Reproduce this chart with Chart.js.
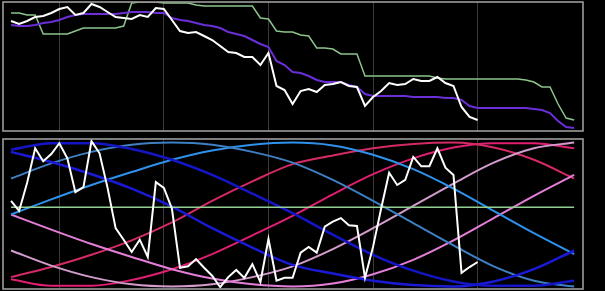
<!DOCTYPE html>
<html><head><meta charset="utf-8">
<script src="https://cdn.jsdelivr.net/npm/chart.js@4.4.1/dist/chart.umd.min.js"></script>
<style>
html,body{margin:0;padding:0;background:#000;width:605px;height:291px;overflow:hidden}
canvas{position:absolute;left:0}
#top{top:0}
#bot{top:135px}
</style></head><body>
<canvas id="top" width="605" height="135"></canvas>
<canvas id="bot" width="605" height="156"></canvas>
<script>
// vertical grid positions (index of weekly samples)
const gridTicks = [6, 19, 32, 45, 58];

// ---- top panel series ----
const topWhite = [109,106,109,113,114, 117,121,123,115,117, 126,123,118,113,112, 111,115,113,122,121,
  110,99,97,98,94, 90,84,78,77,73, 73,65,77,44,40, 26,39,41,38,45, 46,48,44,43,24,
  33,39,47,45,46, 51,49,49,53,47, 44,23,13,10];
const topPurple = [105,104,104,105,107, 108,110,113,115,116, 116,116,116,116,117, 118,118,118,117,117,
  112,110,109,107,105, 104,102,98,96,94, 90,86,83,69,65, 58,57,54,50,48, 48,48,45,43,36,
  34,34,34,34,34, 33,33,33,33,32, 32,30,24,22,22, 22,22,22,22,22, 21,20,17,9,3, 2];
const topGreen = [117,117,115,115,96, 96,96,96,99,102, 102,102,102,102,104, 127,128,128,128,127,
  127,127,127,125,124, 124,124,124,124,124, 124,112,111,99,98, 98,95,94,82,82, 81,76,76,76,54,
  54,54,54,54,54, 54,54,54,52,51, 51,51,51,51,51, 51,51,51,51,50, 48,43,43,26,12, 10];

// ---- bottom panel series ----
const bottomWhite = [0.19,0.05,0.44,0.92,0.74, 0.84,0.99,0.78,0.31,0.38, 1.02,0.85,0.37,-0.19,-0.35,
  -0.52,-0.35,-0.59,0.45,0.37, 0.08,-0.74,-0.72,-0.62,-0.74, -0.85,-1.01,-0.87,-0.77,-0.88,
  -0.69,-0.94,-0.34,-0.92,-0.88, -0.88,-0.53,-0.45,-0.53,-0.17, -0.10,-0.05,-0.15,-0.16,-0.88,
  -0.45,0.08,0.58,0.41,0.48, 0.80,0.67,0.67,0.92,0.65, 0.55,-0.81,-0.73,-0.66];
const thresholdX = [0, 70];
const thresholdY = [0.1, 0.1];
const curveX = [0,5,10,15,20,25,30,35,40,45,50,55,60,65,70];
const waveA = [0.90,0.99,0.99,0.91,0.76,0.55,0.29,0.02,-0.28,-0.56,-0.78,-0.93,-0.99,-0.99,-0.92];
const waveB = [0.87,0.73,0.56,0.36,0.11,-0.19,-0.46,-0.70,-0.82,-0.92,-0.98,-1.0,-0.93,-0.76,-0.50];
const waveC = [0.50,0.71,0.87,0.97,1.0,0.97,0.87,0.72,0.48,0.19,-0.12,-0.43,-0.72,-0.92,-1.0];
const waveD = [0,0.21,0.41,0.59,0.76,0.89,0.97,1.0,0.96,0.83,0.63,0.36,0.05,-0.26,-0.55];
const waveE = [0,-0.21,-0.41,-0.59,-0.76,-0.89,-0.97,-1.0,-0.96,-0.83,-0.63,-0.36,-0.05,0.26,0.55];
const waveF = [-0.50,-0.71,-0.87,-0.97,-1.0,-0.97,-0.87,-0.72,-0.48,-0.19,0.12,0.43,0.72,0.92,1.0];
const waveG = [-0.87,-0.73,-0.56,-0.36,-0.11,0.19,0.46,0.70,0.82,0.92,0.98,1.0,0.93,0.76,0.50];
const waveH = [-0.90,-0.99,-0.99,-0.91,-0.76,-0.55,-0.29,-0.02,0.28,0.56,0.78,0.93,0.99,0.99,0.92];

const toXY = (ys, xs) => ys.map((v, i) => ({x: xs ? xs[i] : i, y: v}));

const framePlugin = {
  id: 'frame',
  afterDraw(chart) {
    const {ctx, chartArea: a} = chart;
    ctx.save();
    ctx.strokeStyle = '#9c9c9c';
    ctx.lineWidth = 1.6;
    ctx.strokeRect(a.left, a.top, a.right - a.left, a.bottom - a.top);
    ctx.restore();
  }
};

function xScale() {
  return {
    type: 'linear', min: -1, max: 71.1,
    ticks: {display: false},
    grid: {color: '#3a3a3a', lineWidth: 1, drawTicks: false},
    border: {display: false},
    afterBuildTicks: s => { s.ticks = gridTicks.map(v => ({value: v})); }
  };
}

function line(data, color, width, smooth) {
  return {
    data, borderColor: color, borderWidth: width, pointRadius: 0,
    fill: false, tension: 0,
    cubicInterpolationMode: smooth ? 'monotone' : 'default'
  };
}

const common = {
  responsive: false, animation: false, parsing: true,
  plugins: {legend: {display: false}, tooltip: {enabled: false}},
  events: []
};

new Chart(document.getElementById('top'), {
  type: 'line',
  data: {datasets: [
    line(toXY(topWhite), '#ffffff', 2, false),
    line(toXY(topPurple), '#6a2fd6', 2, false),
    line(toXY(topGreen), '#8cc48c', 1.5, false)
  ]},
  options: Object.assign({}, common, {
    layout: {padding: {left: 3, top: 2, right: 22, bottom: 4}},
    scales: {
      x: xScale(),
      y: {min: -1, max: 128, display: false}
    }
  }),
  plugins: [framePlugin]
});

new Chart(document.getElementById('bot'), {
  type: 'line',
  data: {datasets: [
    line(toXY(bottomWhite), '#ffffff', 2, false),
    line(toXY(thresholdY, thresholdX), '#94d094', 1.5, false),
    line(toXY(waveA, curveX), '#1515c8', 2.5, true),
    line(toXY(waveB, curveX), '#1a1ad6', 2.5, true),
    line(toXY(waveC, curveX), '#3d80c4', 2, true),
    line(toXY(waveD, curveX), '#2e92ec', 2, true),
    line(toXY(waveE, curveX), '#e47ed8', 2, true),
    line(toXY(waveF, curveX), '#d49ccc', 2, true),
    line(toXY(waveG, curveX), '#d42a66', 2, true),
    line(toXY(waveH, curveX), '#e01e72', 2, true)
  ]},
  options: Object.assign({}, common, {
    layout: {padding: {left: 3, top: 4, right: 22, bottom: 2}},
    scales: {
      x: xScale(),
      y: {min: -1.035, max: 1.049, display: false}
    }
  }),
  plugins: [framePlugin]
});
</script></body></html>
